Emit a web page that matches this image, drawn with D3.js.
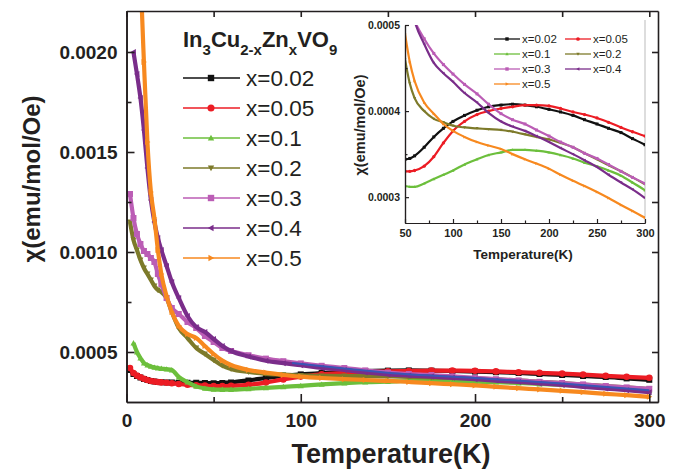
<!DOCTYPE html>
<html>
<head>
<meta charset="utf-8">
<script src="https://cdn.jsdelivr.net/npm/d3@7"></script>
<style>
body { margin: 0; background: #fff; }
text { font-family: Arial, "Liberation Sans", Helvetica, sans-serif; fill: #231f20; }
</style>
</head>
<body>
<svg id="chart" width="682" height="472"></svg>
<script>
// temperature grid (K) shared by all samples
var temps = [2, 4, 6, 8, 10, 12, 14, 16, 18, 20, 23, 26, 30, 35, 40, 45, 50, 55, 60, 70, 80, 90, 100,
             112, 125, 137, 150, 162, 175, 187, 200, 212, 225, 237, 250, 262, 275, 287, 300];

// chi (emu/mol/Oe)
var chi002 = [0.00041, 0.00039, 0.00038, 0.000372, 0.000365, 0.00036, 0.000355, 0.000352, 0.00035, 0.000349,
              0.000348, 0.000347, 0.000346, 0.000346, 0.000346, 0.000345, 0.000344, 0.000345, 0.000348, 0.000358,
              0.00037, 0.00038, 0.000388, 0.000395, 0.000401, 0.000405, 0.000407, 0.000408, 0.000407, 0.000405,
              0.000402, 0.000399, 0.000395, 0.00039, 0.000385, 0.00038, 0.000375, 0.000368, 0.000361];
var chi005 = [0.00042, 0.000395, 0.000382, 0.000374, 0.000366, 0.00036, 0.000355, 0.000352, 0.00035, 0.000348,
              0.000346, 0.000344, 0.00034, 0.000336, 0.000334, 0.000332, 0.00033, 0.00033, 0.000331, 0.000336,
              0.000347, 0.000363, 0.000377, 0.000388, 0.000396, 0.0004, 0.000403, 0.000405, 0.000407, 0.000407,
              0.000406, 0.000403, 0.000399, 0.000396, 0.000392, 0.000387, 0.000381, 0.000376, 0.000371];
var chi01 = [null, 0.000545, 0.0005, 0.00047, 0.000445, 0.000435, 0.000428, 0.000423, 0.00042, 0.000417,
             0.000414, 0.00041, 0.000375, 0.00035, 0.000328, 0.000318, 0.000313, 0.000312, 0.000312, 0.000316,
             0.000321, 0.000326, 0.000331, 0.000338, 0.000344, 0.000349, 0.000352, 0.000355, 0.000355, 0.000354,
             0.000352, 0.000349, 0.000345, 0.00034, 0.000336, 0.000331, 0.000325, 0.000317, 0.000308];
var chi02 = [0.00115, 0.00106, 0.00101, 0.00096, 0.00092, 0.00089, 0.00086, 0.00083, 0.00081, 0.0008,
             0.00077, 0.0007, 0.00062, 0.00057, 0.00052, 0.00049, 0.00046, 0.000432, 0.000415, 0.0004,
             0.000391, 0.000387, 0.000383, 0.000381, 0.00038, 0.000379, 0.000378, 0.000376, 0.000373, 0.00037,
             0.000367, 0.000363, 0.000358, 0.000351, 0.000344, 0.000337, 0.00033, 0.000323, 0.000315];
var chi03 = [0.00129, 0.00117, 0.00109, 0.00104, 0.001005, 0.00099, 0.00097, 0.00095, 0.00089, 0.00084,
             0.00077, 0.00072, 0.00069, 0.00065, 0.00062, 0.00058, 0.00055, 0.00052, 0.000505, 0.000484,
             0.000467, 0.000454, 0.000443, 0.000431, 0.00042, 0.000408, 0.000397, 0.00039, 0.000385, 0.000378,
             0.000371, 0.000364, 0.000358, 0.000351, 0.000345, 0.000338, 0.00033, 0.000323, 0.000316];
var chi04 = [null, 0.002, 0.00189, 0.00177, 0.00161, 0.00142, 0.00126, 0.00115, 0.00107, 0.00101,
             0.00093, 0.00085, 0.00077, 0.00068, 0.000625, 0.0006, 0.000565, 0.00053, 0.000505, 0.000478,
             0.000456, 0.000444, 0.000434, 0.000421, 0.00041, 0.000398, 0.000388, 0.000382, 0.000377, 0.000371,
             0.000364, 0.000357, 0.00035, 0.000343, 0.000335, 0.000326, 0.000317, 0.000309, 0.000299];
var chi05 = [null, 0.0036, 0.003, 0.0024, 0.00195, 0.00155, 0.0013, 0.00117, 0.00101, 0.00089,
             0.00078, 0.0007, 0.00063, 0.00059, 0.00057, 0.00053, 0.00049, 0.000457, 0.000435, 0.00041,
             0.000397, 0.000385, 0.000377, 0.00037, 0.000364, 0.00036, 0.000356, 0.00035, 0.000344, 0.000339,
             0.000333, 0.000326, 0.000319, 0.000313, 0.000306, 0.000299, 0.000291, 0.000284, 0.000276];

// blue fit curve laid over the x=0.3 / x=0.4 data
var fitT = [95, 125, 150, 200, 250, 300];
var fitChi = [0.000445, 0.000418, 0.000396, 0.00037, 0.000342, 0.000309];

var labels = ["x=0.02", "x=0.05", "x=0.1", "x=0.2", "x=0.3", "x=0.4", "x=0.5"];
var values = [chi002, chi005, chi01, chi02, chi03, chi04, chi05];

// styles
var colors = ["#111111", "#ec1c24", "#6cbf3c", "#7d7a2a", "#bb5db5", "#7a2d8a", "#f7891f"];
var shapes = ["square", "circle", "up", "down", "square", "left", "right"];

var xTicks = [0, 100, 200, 300];
var yTicks = [0.0005, 0.001, 0.0015, 0.002];
var insetXTicks = [50, 100, 150, 200, 250, 300];
var insetYTicks = [0.0003, 0.0004, 0.0005];

var ink = "#231f20";
var svg = d3.select("#chart");

var series = values.map(function (v, i) {
  return { label: labels[i], color: colors[i], shape: shapes[i],
           pts: temps.map(function (t, j) { return [t, v[j]]; }) };
});

function marker_path (shape, s) {
  switch (shape) {
    case "square": return "M" + (-s) + "," + (-s) + "h" + 2 * s + "v" + 2 * s + "h" + (-2 * s) + "Z";
    case "circle": return d3.symbol(d3.symbolCircle, Math.PI * s * s * 1.2)();
    case "up": return "M0," + (-s) + "L" + s + "," + 0.8 * s + "L" + (-s) + "," + 0.8 * s + "Z";
    case "down": return "M0," + s + "L" + s + "," + (-0.8 * s) + "L" + (-s) + "," + (-0.8 * s) + "Z";
    case "left": return "M" + (-s) + ",0L" + 0.8 * s + "," + (-s) + "L" + 0.8 * s + "," + s + "Z";
    case "right": return "M" + s + ",0L" + (-0.8 * s) + "," + (-s) + "L" + (-0.8 * s) + "," + s + "Z";
  }
}

function draw_series (g, s, x, y, lw, ms, tmin) {
  var pts = s.pts.filter(function (d) { return d[1] != null && d[0] >= tmin; });
  var line = d3.line().curve(d3.curveMonotoneX)
               .x(function (d) { return x(d[0]); })
               .y(function (d) { return y(d[1]); });
  g.append("path").datum(pts)
   .attr("d", line).attr("fill", "none")
   .attr("stroke", s.color).attr("stroke-width", lw);
  g.selectAll(null).data(pts).enter().append("path")
   .attr("d", marker_path(s.shape, ms))
   .attr("transform", function (d) { return "translate(" + x(d[0]) + "," + y(d[1]) + ")"; })
   .attr("fill", s.color);
}

function style_axis (g, w, fs) {
  g.select(".domain").attr("stroke", ink).attr("stroke-width", w);
  g.selectAll(".tick line").attr("stroke", ink).attr("stroke-width", w);
  g.selectAll("text").attr("font-size", fs).attr("font-weight", "bold").attr("fill", ink);
}

// ---------------- main plot ----------------
var M = { l: 126.5, r: 658, t: 11, b: 402 };
var x = d3.scaleLinear().domain([0, 305]).range([M.l, M.r]);
var y = d3.scaleLinear().domain([0.00025, 0.002205]).range([M.b, M.t]);

svg.append("clipPath").attr("id", "mainclip")
   .append("rect").attr("x", M.l).attr("y", M.t).attr("width", M.r - M.l).attr("height", M.b - M.t);

var plot = svg.append("g").attr("clip-path", "url(#mainclip)");
series.forEach(function (s) { draw_series(plot, s, x, y, 4.2, 3, 0); });
plot.append("path").datum(fitT.map(function (t, j) { return [t, fitChi[j]]; }))
    .attr("d", d3.line().curve(d3.curveMonotoneX)
                 .x(function (d) { return x(d[0]); }).y(function (d) { return y(d[1]); }))
    .attr("fill", "none").attr("stroke", "#3a55b4").attr("stroke-width", 2);

// axes, ticks inward on all four sides
var gx = svg.append("g").attr("transform", "translate(0," + M.b + ")")
  .call(d3.axisBottom(x).tickValues(xTicks).tickSizeInner(-8).tickSizeOuter(0).tickPadding(12).tickFormat(d3.format("d")));
style_axis(gx, 1.6, 19);
var gxm = svg.append("g").attr("transform", "translate(0," + M.b + ")")
  .call(d3.axisBottom(x).tickValues([50, 150, 250]).tickSizeInner(-5).tickSizeOuter(0).tickFormat(""));
style_axis(gxm, 1.6, 19);
var gy = svg.append("g").attr("transform", "translate(" + M.l + ",0)")
  .call(d3.axisLeft(y).tickValues(yTicks).tickSizeInner(-8).tickSizeOuter(0).tickPadding(9).tickFormat(d3.format(".4f")));
style_axis(gy, 1.6, 19);
var gym = svg.append("g").attr("transform", "translate(" + M.l + ",0)")
  .call(d3.axisLeft(y).tickValues([0.00075, 0.00125, 0.00175]).tickSizeInner(-5).tickSizeOuter(0).tickFormat(""));
style_axis(gym, 1.6, 19);
var gt = svg.append("g").attr("transform", "translate(0," + M.t + ")")
  .call(d3.axisTop(x).tickValues(xTicks.concat([50, 150, 250])).tickSizeInner(-6).tickSizeOuter(0).tickFormat(""));
style_axis(gt, 1.6, 19);
var gr = svg.append("g").attr("transform", "translate(" + M.r + ",0)")
  .call(d3.axisRight(y).tickValues(yTicks.concat([0.00075, 0.00125, 0.00175])).tickSizeInner(-6).tickSizeOuter(0).tickFormat(""));
style_axis(gr, 1.6, 19);

svg.append("text").attr("x", 391).attr("y", 463).attr("text-anchor", "middle")
   .attr("font-size", 27).attr("font-weight", "bold").text("Temperature(K)");
svg.append("text").attr("transform", "translate(40,179) rotate(-90)").attr("text-anchor", "middle")
   .attr("font-size", 24).attr("font-weight", "bold").text("\u03c7(emu/mol/Oe)");

// legend
var title = svg.append("text").attr("x", 183).attr("y", 47).attr("font-size", 22).attr("font-weight", "bold");
[["In", 0], ["3", 1], ["Cu", 0], ["2-x", 1], ["Zn", 0], ["x", 1], ["VO", 0], ["9", 1]].forEach(function (p, i, arr) {
  var prev = i > 0 ? arr[i - 1][1] : 0;
  title.append("tspan").text(p[0])
       .attr("font-size", p[1] ? 15 : 22)
       .attr("dy", p[1] - prev === 1 ? 8 : (p[1] - prev === -1 ? -8 : 0));
});

var leg = svg.append("g");
series.forEach(function (s, i) {
  var cy = 78 + i * 30;
  leg.append("line").attr("x1", 183).attr("x2", 240).attr("y1", cy).attr("y2", cy)
     .attr("stroke", s.color).attr("stroke-width", 1.5);
  leg.append("path").attr("d", marker_path(s.shape, 3.2)).attr("fill", s.color)
     .attr("transform", "translate(211," + cy + ")");
  leg.append("text").attr("x", 246).attr("y", cy + 8).attr("font-size", 22.5).text(s.label);
});

// ---------------- inset ----------------
var I = { l: 405, r: 645, t: 25, b: 223 };
var x2 = d3.scaleLinear().domain([50, 300]).range([I.l, I.r]);
var y2 = d3.scaleLinear().domain([0.00027, 0.0005]).range([I.b, I.t]);

svg.append("line").attr("x1", I.r).attr("x2", I.r).attr("y1", 20).attr("y2", I.b)
   .attr("stroke", "#bbbbbb").attr("stroke-width", 1);

svg.append("clipPath").attr("id", "insetclip")
   .append("rect").attr("x", I.l).attr("y", I.t).attr("width", I.r - I.l).attr("height", I.b - I.t);
var inset = svg.append("g").attr("clip-path", "url(#insetclip)");
series.forEach(function (s) { draw_series(inset, s, x2, y2, 2.2, 1.5, 50); });

var ix = svg.append("g").attr("transform", "translate(0," + I.b + ")")
  .call(d3.axisBottom(x2).tickValues(insetXTicks).tickSizeInner(-4).tickSizeOuter(0).tickPadding(6).tickFormat(d3.format("d")));
style_axis(ix, 1.2, 11);
var ixm = svg.append("g").attr("transform", "translate(0," + I.b + ")")
  .call(d3.axisBottom(x2).tickValues([75, 125, 175, 225, 275]).tickSizeInner(-2.5).tickSizeOuter(0).tickFormat(""));
style_axis(ixm, 1.2, 11);
var iy = svg.append("g").attr("transform", "translate(" + I.l + ",0)")
  .call(d3.axisLeft(y2).tickValues(insetYTicks).tickSizeInner(-4).tickSizeOuter(0).tickPadding(5).tickFormat(d3.format(".4f")));
style_axis(iy, 1.2, 10.5);
var iym = svg.append("g").attr("transform", "translate(" + I.l + ",0)")
  .call(d3.axisLeft(y2).tickValues([0.00035, 0.00045]).tickSizeInner(-2.5).tickSizeOuter(0).tickFormat(""));
style_axis(iym, 1.2, 10.5);

svg.append("text").attr("x", 523).attr("y", 259).attr("text-anchor", "middle")
   .attr("font-size", 13.5).attr("font-weight", "bold").text("Temperature(K)");
svg.append("text").attr("transform", "translate(365,125) rotate(-90)").attr("text-anchor", "middle")
   .attr("font-size", 14.5).attr("font-weight", "bold").text("\u03c7(emu/mol/Oe)");

var ileg = svg.append("g");
series.forEach(function (s, i) {
  var col = i % 2, row = Math.floor(i / 2);
  var lx = col ? 565 : 494, cy = 39 + row * 15;
  ileg.append("line").attr("x1", lx).attr("x2", lx + 26).attr("y1", cy).attr("y2", cy)
      .attr("stroke", s.color).attr("stroke-width", 1.3);
  ileg.append("path").attr("d", marker_path(s.shape, 1.7)).attr("fill", s.color)
      .attr("transform", "translate(" + (lx + 13) + "," + cy + ")");
  ileg.append("text").attr("x", lx + 28).attr("y", cy + 4).attr("font-size", 11.5).text(s.label);
});
</script>
</body>
</html>
